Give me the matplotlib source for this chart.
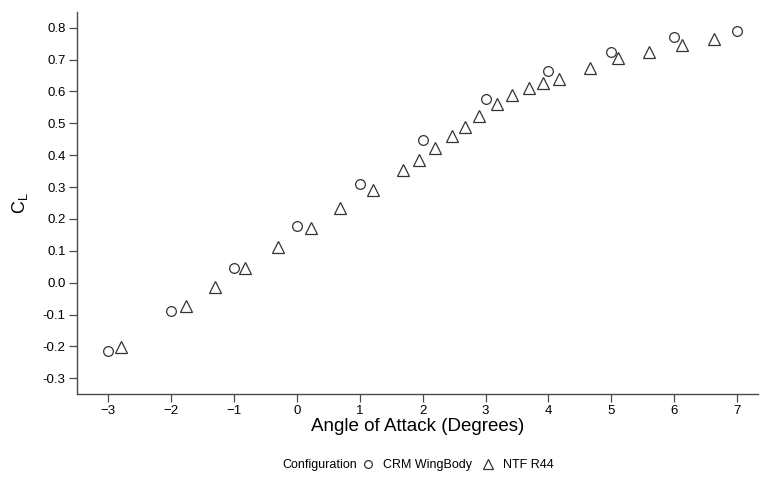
import matplotlib
matplotlib.use("Agg")
import matplotlib.pyplot as plt

plt.rcParams["font.family"] = ["Liberation Sans", "DejaVu Sans"]
plt.rcParams["mathtext.fontset"] = "custom"
plt.rcParams["mathtext.rm"] = "Liberation Sans"

# CRM WingBody: integer angles of attack
crm_alpha = [-3, -2, -1, 0, 1, 2, 3, 4, 5, 6, 7]
crm_cl = [-0.214, -0.088, 0.047, 0.179, 0.308, 0.447, 0.575, 0.664, 0.722, 0.770, 0.789]

# NTF R44 sweep
ntf_alpha = [-2.80, -1.77, -1.30, -0.83, -0.30, 0.22, 0.68, 1.21, 1.69, 1.94,
             2.19, 2.47, 2.67, 2.90, 3.18, 3.42, 3.69, 3.91, 4.16, 4.66,
             5.11, 5.60, 6.13, 6.63]
ntf_cl = [-0.201, -0.073, -0.015, 0.047, 0.111, 0.173, 0.233, 0.292, 0.352, 0.384,
          0.422, 0.459, 0.488, 0.522, 0.560, 0.588, 0.610, 0.626, 0.639, 0.674,
          0.704, 0.724, 0.745, 0.764]

x_ticks = [-3, -2, -1, 0, 1, 2, 3, 4, 5, 6, 7]
y_ticks = [-0.3, -0.2, -0.1, 0.0, 0.1, 0.2, 0.3, 0.4, 0.5, 0.6, 0.7, 0.8]

edge = "#333333"
axis_col = "#4a4a4a"

fig = plt.figure(figsize=(7.6, 4.8), dpi=100)
ax = fig.add_axes([0.1009, 0.1792, 0.8964, 0.7958])

crm, = ax.plot(crm_alpha, crm_cl, linestyle="none", marker="o", markersize=7,
               markerfacecolor="none", markeredgecolor=edge, markeredgewidth=0.9,
               label="CRM WingBody")
ntf, = ax.plot(ntf_alpha, ntf_cl, linestyle="none", marker="^", markersize=9,
               markerfacecolor="none", markeredgecolor=edge, markeredgewidth=0.9,
               label="NTF R44")

ax.set_xlim(-3.5, 7.33)
ax.set_ylim(-0.349, 0.849)
ax.set_xticks(x_ticks)
ax.set_yticks(y_ticks)
ax.set_yticklabels([f"{v:.1f}" for v in y_ticks])

for side in ("top", "right"):
    ax.spines[side].set_visible(False)
for side in ("left", "bottom"):
    ax.spines[side].set_color(axis_col)
    ax.spines[side].set_linewidth(1.0)

ax.tick_params(direction="out", length=5.5, width=0.9, color=axis_col,
               labelsize=9.5, labelcolor="black", pad=2.5)

ax.set_xlabel("Angle of Attack (Degrees)", fontsize=13.5, labelpad=1)
ax.set_ylabel(r"C$_\mathregular{L}$", fontsize=13, labelpad=9)

fig.text(0.470, 1 - 465 / 480, "Configuration", fontsize=9,
         ha="right", va="center")
fig.legend(handles=[crm, ntf], loc="center left",
           bbox_to_anchor=(0.476, 1 - 465 / 480), ncol=2, frameon=False,
           fontsize=9, markerscale=0.8, handlelength=1.0, handletextpad=0.7,
           columnspacing=0.8, borderpad=0, borderaxespad=0)

fig.savefig("out.png", dpi=100)
